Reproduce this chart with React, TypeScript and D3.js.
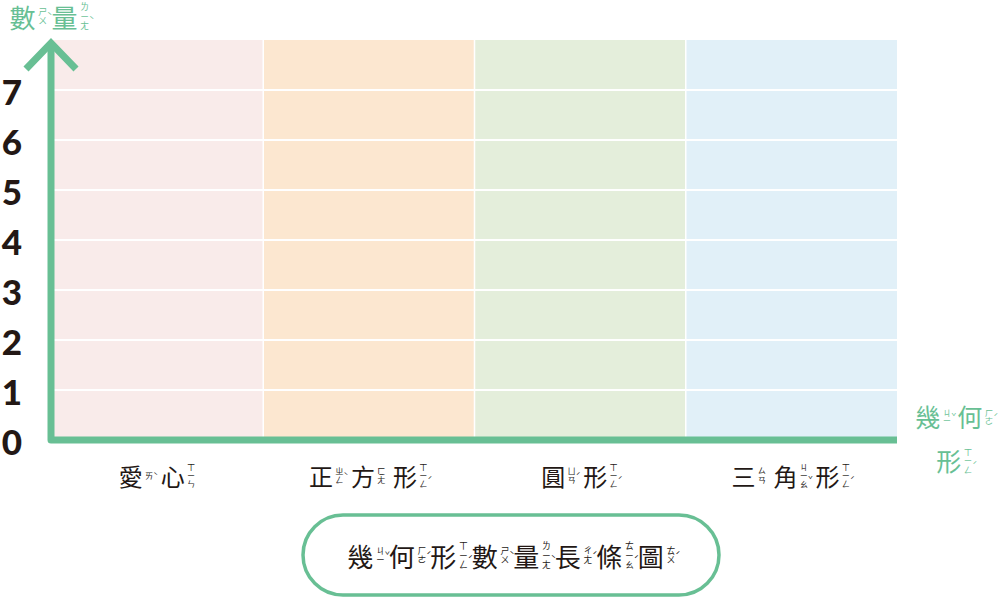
import { useEffect, useRef } from 'react';
import * as d3 from 'd3';

// each character paired with its zhuyin (tone mark last)
type Ruby = [string, string];

const categories: Ruby[][] = [
  [['愛', 'ㄞˋ'], ['心', 'ㄒㄧㄣ']],
  [['正', 'ㄓㄥˋ'], ['方', 'ㄈㄤ'], ['形', 'ㄒㄧㄥˊ']],
  [['圓', 'ㄩㄢˊ'], ['形', 'ㄒㄧㄥˊ']],
  [['三', 'ㄙㄢ'], ['角', 'ㄐㄧㄠˇ'], ['形', 'ㄒㄧㄥˊ']],
];
const categoryKeys = ['愛心', '正方形', '圓形', '三角形'];
const columnColors = ['#f9ebea', '#fce7d0', '#e4eedb', '#e1f0f8'];
const yTicks = [0, 1, 2, 3, 4, 5, 6, 7];
const yMax = 8;

const yTitle: Ruby[] = [['數', 'ㄕㄨˋ'], ['量', 'ㄌㄧㄤˋ']];
const xTitleLine1: Ruby[] = [['幾', 'ㄐㄧˇ'], ['何', 'ㄏㄜˊ']];
const xTitleLine2: Ruby[] = [['形', 'ㄒㄧㄥˊ']];
const chartTitle: Ruby[] = [
  ['幾', 'ㄐㄧˇ'], ['何', 'ㄏㄜˊ'], ['形', 'ㄒㄧㄥˊ'], ['數', 'ㄕㄨˋ'],
  ['量', 'ㄌㄧㄤˋ'], ['長', 'ㄔㄤˊ'], ['條', 'ㄊㄧㄠˊ'], ['圖', 'ㄊㄨˊ'],
];

const GREEN = '#68bf94';
const INK = '#231815';
const CJK = '"Noto Sans CJK TC", "Noto Sans CJK SC", sans-serif';

function drawRuby(
  parent: d3.Selection<SVGGElement, unknown, null, undefined>,
  cx: number,
  cy: number,
  chars: Ruby[],
  size: number,
  unit: number,
  color: string,
) {
  const rubySize = size * 0.34;
  const rubyW = size * 0.5;
  const total = unit * (chars.length - 1) + size + rubyW;
  let x = cx - total / 2;
  const g = parent.append('g').attr('fill', color).attr('font-family', CJK);
  chars.forEach(([ch, zy]) => {
    g.append('text')
      .attr('x', x + size / 2)
      .attr('y', cy)
      .attr('text-anchor', 'middle')
      .attr('dominant-baseline', 'central')
      .attr('font-size', size)
      .attr('font-weight', 400)
      .text(ch);
    const tones = 'ˊˇˋ˙';
    let tone = '';
    let syms = zy;
    if (tones.includes(zy[zy.length - 1])) {
      tone = zy[zy.length - 1];
      syms = zy.slice(0, -1);
    }
    const list = Array.from(syms);
    const rx = x + size + rubySize * 0.8;
    const step = rubySize * 1.05;
    list.forEach((s, i) => {
      g.append('text')
        .attr('x', rx)
        .attr('y', cy + (i - (list.length - 1) / 2) * step)
        .attr('text-anchor', 'middle')
        .attr('dominant-baseline', 'central')
        .attr('font-size', rubySize)
        .text(s);
    });
    if (tone) {
      g.append('text')
        .attr('x', rx + rubySize * 0.8)
        .attr('y', cy + (list.length > 2 ? step * 0.5 : 0))
        .attr('text-anchor', 'middle')
        .attr('dominant-baseline', 'central')
        .attr('font-size', rubySize)
        .text(tone);
    }
    x += unit;
  });
}

export default function App() {
  const svgRef = useRef<SVGSVGElement>(null);

  useEffect(() => {
    if (!svgRef.current) return;
    const svg = d3.select(svgRef.current);
    svg.selectAll('*').remove();

    const left = 52;
    const right = 897;
    const top = 40;
    const bottom = 440;

    const x = d3.scaleBand().domain(categoryKeys).range([left, right]).padding(0);
    const y = d3.scaleLinear().domain([0, yMax]).range([bottom, top]);

    const g = svg.append('g');

    // column backgrounds
    g.selectAll('rect.col')
      .data(categoryKeys)
      .enter()
      .append('rect')
      .attr('class', 'col')
      .attr('x', (d) => x(d) || 0)
      .attr('y', y(yMax))
      .attr('width', x.bandwidth())
      .attr('height', y(0) - y(yMax))
      .attr('fill', (_, i) => columnColors[i]);

    // white separators between columns
    g.selectAll('line.sep')
      .data(categoryKeys.slice(1))
      .enter()
      .append('line')
      .attr('x1', (d) => x(d) || 0)
      .attr('x2', (d) => x(d) || 0)
      .attr('y1', y(yMax))
      .attr('y2', y(0))
      .attr('stroke', '#fff')
      .attr('stroke-width', 1.5);

    // gridlines
    g.selectAll('line.grid')
      .data(yTicks.filter((t) => t > 0))
      .enter()
      .append('line')
      .attr('x1', left)
      .attr('x2', right)
      .attr('y1', (d) => y(d))
      .attr('y2', (d) => y(d))
      .attr('stroke', '#fff')
      .attr('stroke-width', 2);

    // y tick labels
    g.selectAll('text.ytick')
      .data(yTicks)
      .enter()
      .append('text')
      .attr('x', 12)
      .attr('y', (d) => y(d) + 1)
      .attr('text-anchor', 'middle')
      .attr('dominant-baseline', 'central')
      .attr('font-family', 'Lato, "Noto Sans", sans-serif')
      .attr('font-weight', 900)
      .attr('font-size', 35)
      .attr('fill', INK)
      .text((d) => d);

    // axes
    g.append('path')
      .attr('d', `M${left - 1},${y(yMax) + 4} L${left - 1},${y(0)} L${right},${y(0)}`)
      .attr('fill', 'none')
      .attr('stroke', GREEN)
      .attr('stroke-width', 7)
      .attr('stroke-linejoin', 'round');
    g.append('path')
      .attr('d', `M${left - 26},${y(yMax) + 29} L${left - 1},${y(yMax) + 3} L${left + 24},${y(yMax) + 29}`)
      .attr('fill', 'none')
      .attr('stroke', GREEN)
      .attr('stroke-width', 7)
      .attr('stroke-linejoin', 'miter');

    // category labels
    categoryKeys.forEach((k, i) => {
      drawRuby(g, (x(k) || 0) + x.bandwidth() / 2, 475, categories[i], 24, 42, INK);
    });

    // axis titles
    drawRuby(g, 50, 16, yTitle, 26, 42, GREEN);
    drawRuby(g, 955, 416, xTitleLine1, 25, 42, GREEN);
    drawRuby(g, 955, 460, xTitleLine2, 25, 42, GREEN);

    // chart title box
    g.append('rect')
      .attr('x', 303)
      .attr('y', 515)
      .attr('width', 416)
      .attr('height', 80)
      .attr('rx', 40)
      .attr('fill', '#fff')
      .attr('stroke', GREEN)
      .attr('stroke-width', 3.5);
    drawRuby(g, 512, 555, chartTitle, 26, 41.5, INK);
  }, []);

  return (
    <svg
      ref={svgRef}
      width={1000}
      height={598}
      style={{ position: 'absolute', left: 0, top: 0, background: '#fff' }}
    />
  );
}
